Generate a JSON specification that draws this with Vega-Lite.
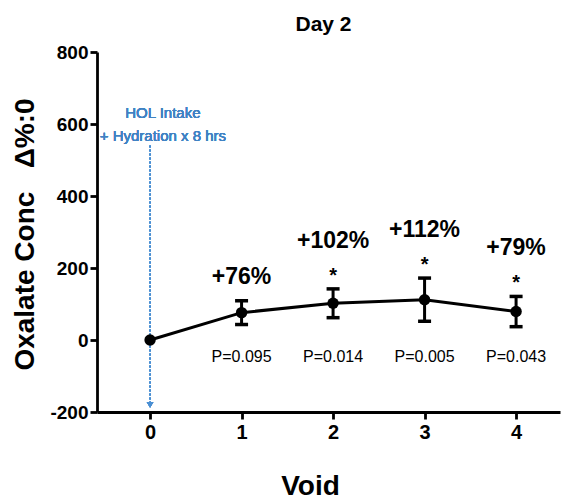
{
  "$schema": "https://vega.github.io/schema/vega-lite/v6.json",
  "autosize": "none",
  "width": 463,
  "height": 360,
  "padding": {"left": 97, "top": 52, "right": 4, "bottom": 92},
  "background": "white",
  "title": {"text": "Day 2", "font": "Liberation Sans", "fontSize": 21, "fontWeight": "bold", "color": "black", "offset": 8, "dx": -5},
  "config": {
    "view": {"stroke": null},
    "axis": {"grid": false, "domainColor": "black", "tickColor": "black", "domainWidth": 2.8, "tickWidth": 2.8, "tickSize": 7, "labelColor": "black", "titleColor": "black", "labelFont": "Liberation Sans", "titleFont": "Liberation Sans", "labelFontWeight": "bold", "titleFontWeight": "bold"}
  },
  "data": {"values": [
    {"void": 0, "mean": 0, "lower": null, "upper": null, "pct": null, "p": null, "star": false},
    {"void": 1, "mean": 76, "lower": 43, "upper": 109, "pct": "+76%", "p": "P=0.095", "star": false},
    {"void": 2, "mean": 102, "lower": 62, "upper": 142, "pct": "+102%", "p": "P=0.014", "star": true},
    {"void": 3, "mean": 112, "lower": 52, "upper": 172, "pct": "+112%", "p": "P=0.005", "star": true},
    {"void": 4, "mean": 79, "lower": 37, "upper": 121, "pct": "+79%", "p": "P=0.043", "star": true}
  ]},
  "encoding": {
    "x": {"field": "void", "type": "quantitative", "scale": {"domain": [-0.58, 4.48], "nice": false, "zero": false},
      "axis": {"values": [0, 1, 2, 3, 4], "title": "Void", "labelFontSize": 20, "labelPadding": 3, "titleFontSize": 28, "titleX": 213, "titleY": 74, "titleBaseline": "middle", "titleAlign": "center"}},
    "y": {"field": "mean", "type": "quantitative", "scale": {"domain": [-200, 800], "nice": false, "zero": false},
      "axis": {"values": [-200, 0, 200, 400, 600, 800], "labelExpr": "replace(datum.label, '−', '-')", "title": "Oxalate Conc\u00a0\u00a0\u00a0Δ%:0", "labelFontSize": 19, "labelPadding": 2, "titleFontSize": 28, "titleAngle": -90, "titleX": -72, "titleY": 182, "titleAlign": "center", "titleBaseline": "middle"}}
  },
  "layer": [
    {"mark": {"type": "rule", "color": "#4a8fd3", "strokeWidth": 1.5, "strokeDash": [2, 2]},
      "encoding": {"x": {"datum": 0}, "y": {"datum": 540}, "y2": {"datum": -176}}},
    {"mark": {"type": "point", "shape": "triangle-down", "filled": true, "color": "#4a8fd3", "size": 45, "opacity": 1},
      "encoding": {"x": {"datum": 0}, "y": {"datum": -180}}},
    {"mark": {"type": "text", "text": ["HOL Intake", "+ Hydration x 8 hrs"], "font": "Liberation Sans", "fontSize": 15, "color": "#3f82c4", "align": "center", "baseline": "middle", "lineHeight": 23},
      "encoding": {"x": {"datum": 0.14}, "y": {"datum": 630}}},
    {"mark": {"type": "line", "color": "black", "strokeWidth": 3}},
    {"transform": [{"filter": "datum.upper != null"}],
      "mark": {"type": "rule", "color": "black", "strokeWidth": 3},
      "encoding": {"y": {"field": "lower", "type": "quantitative"}, "y2": {"field": "upper"}}},
    {"transform": [{"filter": "datum.upper != null"}],
      "mark": {"type": "tick", "color": "black", "orient": "horizontal", "size": 13, "thickness": 3.5, "opacity": 1},
      "encoding": {"y": {"field": "upper", "type": "quantitative"}}},
    {"transform": [{"filter": "datum.upper != null"}],
      "mark": {"type": "tick", "color": "black", "orient": "horizontal", "size": 13, "thickness": 3.5, "opacity": 1},
      "encoding": {"y": {"field": "lower", "type": "quantitative"}}},
    {"mark": {"type": "point", "filled": true, "color": "black", "size": 130, "opacity": 1}},
    {"transform": [{"filter": "datum.star"}],
      "mark": {"type": "text", "text": "*", "font": "Liberation Sans", "fontSize": 20, "fontWeight": "bold", "color": "black", "baseline": "middle", "dy": -13},
      "encoding": {"y": {"field": "upper", "type": "quantitative"}}},
    {"transform": [{"filter": "datum.star"}],
      "mark": {"type": "text", "font": "Liberation Sans", "fontSize": 23, "fontWeight": "bold", "color": "black", "baseline": "middle", "dy": -48},
      "encoding": {"y": {"field": "upper", "type": "quantitative"}, "text": {"field": "pct"}}},
    {"transform": [{"filter": "datum.upper != null && !datum.star"}],
      "mark": {"type": "text", "font": "Liberation Sans", "fontSize": 23, "fontWeight": "bold", "color": "black", "baseline": "middle", "dy": -24},
      "encoding": {"y": {"field": "upper", "type": "quantitative"}, "text": {"field": "pct"}}},
    {"transform": [{"filter": "datum.p != null"}],
      "mark": {"type": "text", "font": "Liberation Sans", "fontSize": 16, "color": "black", "baseline": "middle", "dy": 17},
      "encoding": {"y": {"datum": 0}, "text": {"field": "p"}}}
  ]
}
